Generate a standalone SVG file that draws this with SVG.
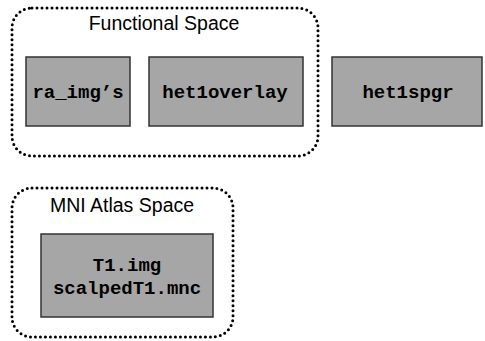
<svg xmlns="http://www.w3.org/2000/svg" width="485" height="341" viewBox="0 0 485 341">
<style>
.space{fill:none;stroke:#000;stroke-width:3;stroke-dasharray:0 5;stroke-linecap:round}
.box{fill:#a6a6a6;stroke:#333;stroke-width:1.5}
.lbl{font-family:"Liberation Sans",Arial,sans-serif;font-size:19.5px;fill:#000;text-anchor:middle}
.code{font-family:"Liberation Mono","Courier New",monospace;font-weight:bold;font-size:19px;fill:#000;text-anchor:middle}
</style>
<rect width="485" height="341" fill="#fff"/>
<g id="functional-space">
<rect class="space" x="12" y="8" width="306" height="148" rx="20"/>
<text class="lbl" x="164" y="30">Functional Space</text>
</g>
<g id="mni-space">
<rect class="space" x="12" y="188" width="221" height="149" rx="20"/>
<text class="lbl" x="122" y="212">MNI Atlas Space</text>
</g>
<g id="ra_imgs">
<rect class="box" x="26" y="57" width="104" height="69"/>
<text class="code" x="78" y="98">ra_img’s</text>
</g>
<g id="het1overlay">
<rect class="box" x="149" y="57" width="154" height="69"/>
<text class="code" x="225" y="98">het1overlay</text>
</g>
<g id="het1spgr">
<rect class="box" x="332" y="57" width="150" height="69"/>
<text class="code" x="408" y="98">het1spgr</text>
</g>
<g id="t1">
<rect class="box" x="41" y="234" width="172" height="83"/>
<text class="code" x="127" y="271">T1.img</text>
<text class="code" x="127" y="294">scalpedT1.mnc</text>
</g>
<g id="connectors"></g>
</svg>
